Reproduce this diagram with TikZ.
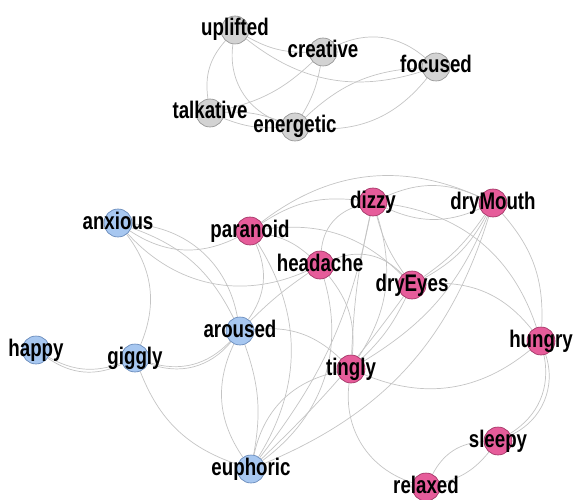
\documentclass[tikz,border=0pt]{standalone}
\usepackage{fontspec}
\setmainfont{Liberation Sans}
\usepackage{graphicx}
\usetikzlibrary{backgrounds}

\definecolor{effgrey}{HTML}{D3D3D3}
\definecolor{effgreyline}{HTML}{8E8E8E}
\definecolor{effblue}{HTML}{A7C7F0}
\definecolor{effblueline}{HTML}{5F82B4}
\definecolor{effpink}{HTML}{E65C9A}
\definecolor{effpinkline}{HTML}{9A2E5E}
\definecolor{linkgrey}{HTML}{C4C4C4}

\newcommand{\nm}[1]{\scalebox{0.78}[1]{#1}}

\begin{document}
\begin{tikzpicture}[x=1pt,y=-1pt,
    mood/.style={circle,draw,line width=0.6pt,minimum size=28pt,inner sep=0pt,
      label={[font=\bfseries\fontsize{24}{24}\selectfont,text height=17pt,
        text depth=5pt,inner sep=0pt]center:\nm{#1}}},
    gnode/.style={mood={#1},fill=effgrey,draw=effgreyline},
    bnode/.style={mood={#1},fill=effblue,draw=effblueline},
    pnode/.style={mood={#1},fill=effpink,draw=effpinkline},
    link/.style={draw=linkgrey,line width=0.7pt}]
    \useasboundingbox (0,0) rectangle (573,500);

    \node[gnode=uplifted] (uplifted) at (235, 30) {};
    \node[gnode=creative] (creative) at (323, 52) {};
    \node[gnode=focused] (focused) at (436, 67) {};
    \node[gnode=talkative] (talkative) at (210, 113) {};
    \node[gnode=energetic] (energetic) at (295, 127) {};

    \node[bnode=anxious] (anxious) at (118, 223) {};
    \node[bnode=happy] (happy) at (36, 350) {};
    \node[bnode=giggly] (giggly) at (135, 358) {};
    \node[bnode=aroused] (aroused) at (240, 331) {};
    \node[bnode=euphoric] (euphoric) at (251, 469) {};

    \node[pnode=paranoid] (paranoid) at (250, 231) {};
    \node[pnode=dizzy] (dizzy) at (373, 202) {};
    \node[pnode=dryMouth] (dryMouth) at (493, 203) {};
    \node[pnode=headache] (headache) at (320, 265) {};
    \node[pnode=dryEyes] (dryEyes) at (412, 285) {};
    \node[pnode=hungry] (hungry) at (541, 341) {};
    \node[pnode=tingly] (tingly) at (351, 369) {};
    \node[pnode=sleepy] (sleepy) at (498, 441) {};
    \node[pnode=relaxed] (relaxed) at (426, 487) {};

    \begin{scope}[on background layer]
    % top group
    \draw[link] (uplifted) to[bend right=15] (creative);
    \draw[link] (uplifted) to[bend right=28] (focused);
    \draw[link] (uplifted) to[bend right=25] (talkative);
    \draw[link] (uplifted) to[bend right=40] (energetic);
    \draw[link] (creative) to[bend left=33] (focused);
    \draw[link] (creative) to[bend left=15] (talkative);
    \draw[link] (creative) to[bend left=10] (energetic);
    \draw[link] (talkative) to[bend left=12] (energetic);
    \draw[link] (talkative) to[bend right=12] (energetic);
    \draw[link] (energetic) to[bend left=20] (focused);
    \draw[link] (energetic) to[bend right=28] (focused);

    % blue ones
    \draw[link] (anxious) to[bend right=30] (paranoid);
    \draw[link] (anxious) to[bend right=36] (headache);
    \draw[link] (anxious) to[bend left=22] (aroused);
    \draw[link] (anxious) to[bend left=38] (aroused);
    \draw[link] (anxious) to[bend left=30] (giggly);
    \draw[link] (happy) to[bend right=25] (giggly);
    \draw[link] (happy) to[bend right=30] (giggly);
    \draw[link] (giggly) to[bend right=32] (aroused);
    \draw[link] (giggly) to[bend right=36] (aroused);
    \draw[link] (giggly) to[bend right=25] (euphoric);
    \draw[link] (aroused) to[bend right=30] (euphoric);
    \draw[link] (aroused) to[bend left=15] (euphoric);
    \draw[link] (aroused) to[bend left=25] (tingly);

    % pink ones
    \draw[link] (paranoid) to[bend left=30] (aroused);
    \draw[link] (paranoid) to[bend left=32] (euphoric);
    \draw[link] (paranoid) to[bend left=15] (headache);
    \draw[link] (paranoid) to[bend left=26] (dryEyes);
    \draw[link] (paranoid) to[bend left=20] (dizzy);
    \draw[link] (paranoid) to[bend left=31] (dryMouth);
    \draw[link] (headache) to[bend left=35] (dizzy);
    \draw[link] (headache) to[bend left=35] (dryEyes);
    \draw[link] (headache) to[bend left=22] (tingly);
    \draw[link] (headache) to[bend left=35] (euphoric);
    \draw[link] (headache) to[bend right=5] (aroused);
    \draw[link] (tingly) to[bend right=33] (euphoric);
    \draw[link] (tingly) to[bend right=31] (hungry);
    \draw[link] (tingly) to[bend right=40] (relaxed);
    \draw[link] (tingly) to[bend left=5] (dizzy);
    \draw[link] (tingly) to[bend right=25] (dizzy);
    \draw[link] (tingly) to[bend right=10] (dryEyes);
    \draw[link] (tingly) to[bend right=18] (dryMouth);
    \draw[link] (dizzy) to[bend left=13] (euphoric);
    \draw[link] (dryEyes) to[bend left=5] (euphoric);
    \draw[link] (dryMouth) to[bend left=25] (euphoric);
    \draw[link] (dizzy) to[bend left=24] (dryMouth);
    \draw[link] (dizzy) to[bend right=24] (dryMouth);
    \draw[link] (dizzy) to[bend right=10] (dryEyes);
    \draw[link] (dizzy) to[bend left=32] (hungry);
    \draw[link] (dryMouth) to[bend left=22] (hungry);
    \draw[link] (dryEyes) to[bend left=28] (hungry);
    \draw[link] (dryEyes) to[bend right=10] (dryMouth);
    \draw[link] (dryEyes) to[bend right=16] (dryMouth);
    \draw[link] (hungry) to[bend left=35] (sleepy);
    \draw[link] (hungry) to[bend left=42] (sleepy);
    \draw[link] (sleepy) to[bend right=30] (relaxed);
    \draw[link] (sleepy) to[bend left=18] (relaxed);
    \end{scope}

\end{tikzpicture}
\end{document}
